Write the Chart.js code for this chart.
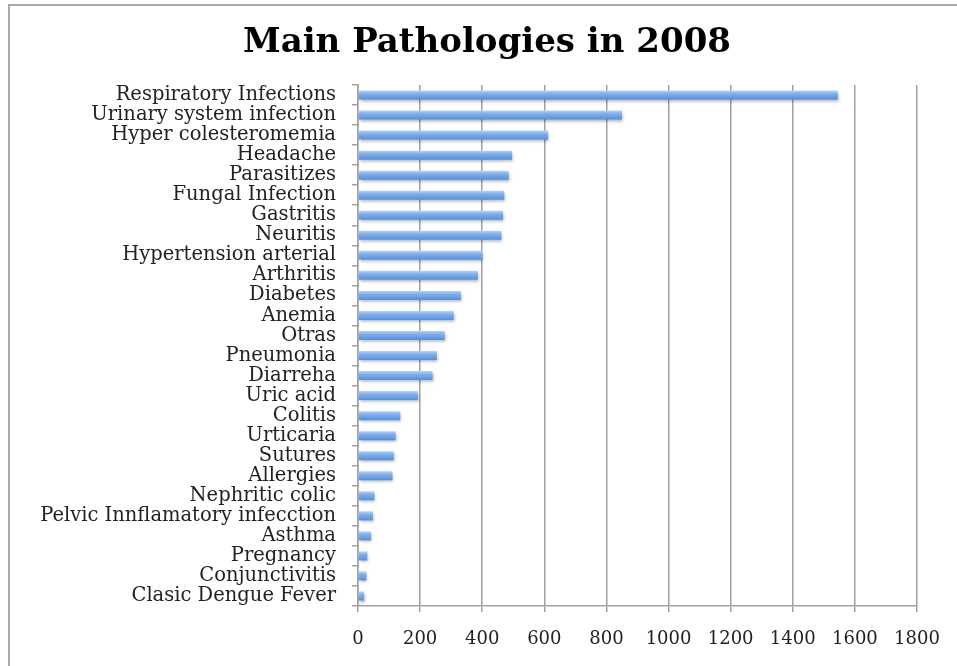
<!DOCTYPE html>
<html>
<head>
<meta charset="utf-8">
<script src="https://cdn.jsdelivr.net/npm/chart.js@4"></script>
<style>
  html, body { margin: 0; padding: 0; background: #fff; overflow: hidden; }
  #frame {
    position: absolute; left: 8px; top: 4px; width: 949px; height: 662px;
    border-left: 2px solid #a8a8a8; border-top: 2px solid #a8a8a8;
  }
  #wrap { position: absolute; left: 10px; top: 6px; width: 947px; height: 660px; }
  #title {
    position: absolute; left: 87px; width: 800px; top: 20px;
    text-align: center; font: bold 34px 'DejaVu Serif', serif; color: #000;
    line-height: 40px;
  }
</style>
</head>
<body>
<div id="frame"></div>
<div id="wrap"><canvas id="chart"></canvas></div>
<div id="title">Main Pathologies in 2008</div>
<script>
// Categories, top to bottom
const pathologies = [
  "Respiratory Infections", "Urinary system infection", "Hyper colesteromemia",
  "Headache", "Parasitizes", "Fungal Infection", "Gastritis", "Neuritis",
  "Hypertension arterial", "Arthritis", "Diabetes", "Anemia", "Otras",
  "Pneumonia", "Diarreha", "Uric acid", "Colitis", "Urticaria", "Sutures",
  "Allergies", "Nephritic colic", "Pelvic Innflamatory infecction", "Asthma",
  "Pregnancy", "Conjunctivitis", "Clasic Dengue Fever"
];

// Number of cases
const cases = [
  1545, 850, 612, 496, 485, 471, 467, 462,
  400, 386, 331, 308, 279,
  254, 240, 193, 136, 121, 115,
  111, 53, 48, 42,
  30, 27, 19
];

// x axis range
const xMin = 0;
const xMax = 1800;
const xStep = 200;

const gridGray = "#a0a0a0";
const serif = "'DejaVu Serif', serif";

// bar fill: light top edge fading to a deeper blue
const barFill = (ctx) => {
  const chart = ctx.chart;
  const y = chart.scales.y;
  if (!y || ctx.dataIndex === undefined) return "#6ea4e6";
  const c = y.getPixelForValue(ctx.dataIndex);
  if (!isFinite(c)) return "#6ea4e6";
  const g = chart.ctx.createLinearGradient(0, c - 4.5, 0, c + 4.5);
  g.addColorStop(0, "#b8d3f5");
  g.addColorStop(0.35, "#80afee");
  g.addColorStop(1, "#5590dc");
  return g;
};

// soft drop shadow under the bars
const barShadow = {
  id: "barShadow",
  beforeDatasetsDraw(chart) {
    const c = chart.ctx;
    c.save();
    c.shadowColor = "rgba(0,0,0,0.3)";
    c.shadowBlur = 3;
    c.shadowOffsetX = 1;
    c.shadowOffsetY = 2;
  },
  afterDatasetsDraw(chart) {
    chart.ctx.restore();
  }
};

new Chart(document.getElementById("chart"), {
  type: "bar",
  plugins: [barShadow],
  data: {
    labels: pathologies,
    datasets: [{
      data: cases,
      backgroundColor: barFill,
      borderWidth: 0,
      barPercentage: 0.45,
      categoryPercentage: 1
    }]
  },
  options: {
    indexAxis: "y",
    responsive: true,
    maintainAspectRatio: false,
    animation: false,
    layout: { padding: { left: 0, right: 40, top: 79, bottom: 8 } },
    plugins: {
      legend: { display: false },
      tooltip: { enabled: false },
      title: { display: false }
    },
    scales: {
      x: {
        min: xMin,
        max: xMax,
        ticks: {
          stepSize: xStep,
          color: "#222",
          font: { family: serif, size: 18 },
          padding: 17,
          callback: (v) => String(v)
        },
        grid: { color: gridGray, lineWidth: 1.5, tickLength: 6 },
        border: { display: true, color: gridGray, width: 1.5 },
        afterFit: (s) => { s.height = 52; }
      },
      y: {
        ticks: {
          color: "#222",
          font: { family: serif, size: 19.5 },
          padding: 16,
          autoSkip: false
        },
        grid: {
          offset: true,
          drawOnChartArea: false,
          color: gridGray,
          lineWidth: 1.5,
          tickLength: 6
        },
        border: { display: true, color: gridGray, width: 1.5 },
        afterFit: (s) => { s.width = 348; }
      }
    }
  }
});
</script>
</body>
</html>
